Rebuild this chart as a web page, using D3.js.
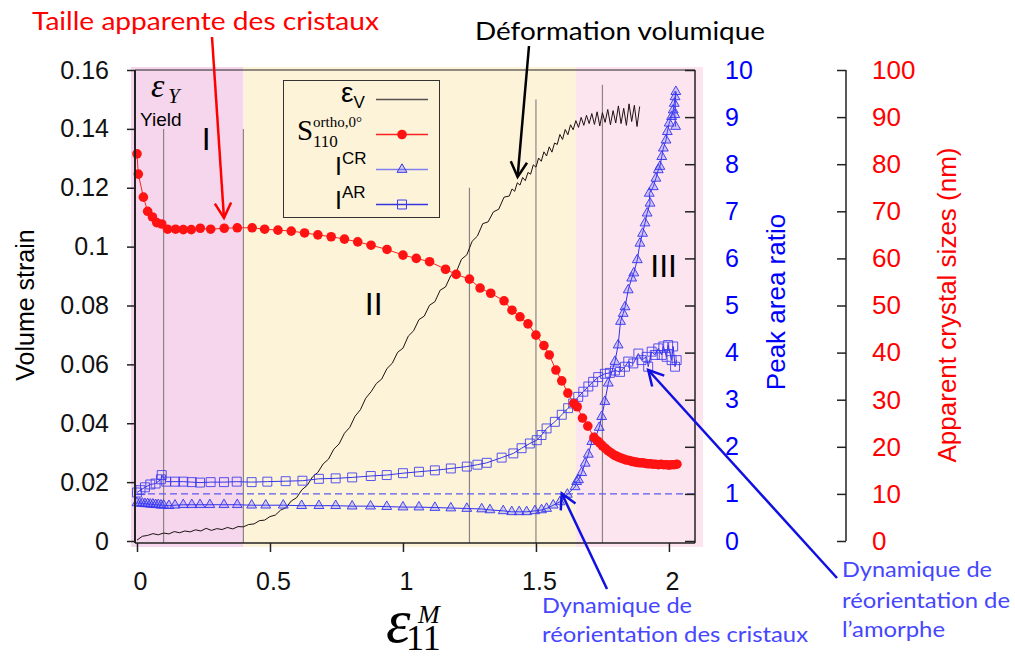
<!DOCTYPE html>
<html>
<head>
<meta charset="utf-8">
<script src="https://cdn.jsdelivr.net/npm/d3@7"></script>
<style>
  body { margin: 0; background: #fff; }
  svg { display: block; }
  text { font-family: "Liberation Sans", Arial, sans-serif; }
  .note { font-family: "Lato", "Open Sans", sans-serif; }
  .serif { font-family: "Liberation Serif", "Times New Roman", serif; }
</style>
</head>
<body>
<svg id="chart" width="1015" height="660"></svg>
<script>
// ---- ticks ----
const strainTicks = [0, 0.02, 0.04, 0.06, 0.08, 0.1, 0.12, 0.14, 0.16]
const ratioTicks = [0, 1, 2, 3, 4, 5, 6, 7, 8, 9, 10]
const sizeTicks = [0, 10, 20, 30, 40, 50, 60, 70, 80, 90, 100]
const strainXTicks = [0, 0.5, 1, 1.5, 2]

// ---- regions I / II / III (boundaries in eps11) ----
const regionEdges = [0.4, 1.65]
const regionNames = ["I", "II", "III"]
const regionLabelX = [0.26, 0.89, 1.98]
const regionLabelY = [0.1328, 0.0768, 0.0896]

// vertical reference lines: position and top (volume strain)
const refLineX = [0.1, 0.4, 1.25, 1.5, 1.75]
const refLineTop = [0.14, 0.14, 0.12, 0.15, 0.155]

// ---- volume strain (eps_V) ----
const volStrain = [
  [0.00,0.0003],[0.02,0.0016],[0.04,0.0019],[0.06,0.0025],[0.08,0.0021],[0.10,0.0027],
  [0.12,0.0024],[0.14,0.0032],[0.16,0.0028],[0.18,0.0034],[0.20,0.0031],[0.22,0.0038],
  [0.24,0.0034],[0.26,0.0043],[0.28,0.0036],[0.30,0.0042],[0.32,0.0039],[0.34,0.0046],
  [0.36,0.0041],[0.38,0.0049],[0.40,0.0048],[0.42,0.0056],[0.44,0.0058],[0.46,0.0069],
  [0.48,0.0071],[0.50,0.0083],[0.52,0.0088],[0.54,0.0105],[0.56,0.0113],[0.58,0.0136],
  [0.60,0.0147],[0.62,0.0174],[0.64,0.0189],[0.66,0.0218],[0.68,0.0233],[0.70,0.0262],
  [0.72,0.0278],[0.74,0.0312],[0.76,0.0330],[0.78,0.0366],[0.80,0.0386],[0.82,0.0424],
  [0.84,0.0446],[0.86,0.0485],[0.88,0.0507],[0.90,0.0535],[0.92,0.0550],[0.94,0.0586],
  [0.96,0.0604],[0.98,0.0641],[1.00,0.0655],[1.02,0.0696],[1.04,0.0714],[1.06,0.0752],
  [1.08,0.0764],[1.10,0.0801],[1.12,0.0813],[1.14,0.0852],[1.16,0.0863],[1.18,0.0902],
  [1.20,0.0913],[1.22,0.0957],[1.24,0.0972],[1.26,0.1018],[1.28,0.1036],[1.30,0.1078],
  [1.32,0.1084],[1.34,0.1118],[1.36,0.1127],[1.38,0.1168],[1.40,0.1172],[1.41,0.1196],
  [1.42,0.1188],[1.43,0.1217],[1.44,0.1209],[1.45,0.1235],[1.46,0.1224],[1.47,0.1252],
  [1.48,0.1246],[1.49,0.1278],[1.50,0.1270],[1.51,0.1301],[1.52,0.1290],[1.53,0.1322],
  [1.54,0.1308],[1.55,0.1339],[1.56,0.1321],[1.57,0.1352],[1.58,0.1347],[1.59,0.1381],
  [1.60,0.1364],[1.61,0.1398],[1.62,0.1380],[1.63,0.1414],[1.64,0.1397],[1.65,0.1428],
  [1.66,0.1405],[1.67,0.1439],[1.68,0.1412],[1.69,0.1446],[1.70,0.1418],[1.71,0.1452],
  [1.72,0.1415],[1.73,0.1458],[1.74,0.1410],[1.75,0.1455],[1.76,0.1422],[1.77,0.1466],
  [1.78,0.1414],[1.79,0.1462],[1.80,0.1420],[1.81,0.1478],[1.82,0.1418],[1.83,0.1470],
  [1.84,0.1412],[1.85,0.1485],[1.86,0.1425],[1.87,0.1480],[1.88,0.1408],[1.89,0.1476]
]

// ---- apparent crystal size S110 (nm) ----
const crystalSize = [
  [0,82.2],[0.005,77.9],[0.024,73.0],[0.040,70.0],[0.058,68.8],[0.074,67.6],[0.093,67.3],
  [0.115,66.2],[0.145,66.2],[0.174,66.1],[0.204,66.1],[0.238,66.4],[0.277,66.2],[0.328,66.4],
  [0.377,66.5],[0.433,66.5],[0.48,66.2],[0.53,66.0],[0.58,65.8],[0.63,65.4],[0.68,65.0],
  [0.73,64.6],[0.78,64.1],[0.83,63.5],[0.88,62.8],[0.94,61.9],[1.00,60.7],[1.05,60.0],
  [1.10,59.3],[1.16,57.7],[1.20,56.6],[1.25,55.6],[1.29,53.7],[1.33,52.6],[1.38,51.0],
  [1.41,49.0],[1.44,47.6],[1.47,46.1],[1.50,43.7],[1.53,41.5],[1.55,39.5],[1.575,36.3],
  [1.597,34.0],[1.62,31.4],[1.642,29.2],[1.655,28.5],[1.675,26.1],[1.695,24.4],[1.718,22.0],
  [1.73,21.3],[1.74,20.8],[1.75,20.2],[1.76,19.7],[1.77,19.2],[1.78,18.8],[1.79,18.4],
  [1.80,18.1],[1.81,17.8],[1.82,17.6],[1.83,17.4],[1.84,17.2],[1.85,17.1],[1.86,16.9],
  [1.87,16.8],[1.88,16.7],[1.89,16.6],[1.90,16.6],[1.91,16.5],[1.92,16.4],[1.93,16.4],
  [1.94,16.3],[1.95,16.3],[1.96,16.2],[1.97,16.3],[1.98,16.2],[1.99,16.2],[2.00,16.1],
  [2.01,16.2],[2.02,16.2],[2.03,16.3]
]

// ---- peak area ratio I_CR (triangles) ----
const ratioCR = [
  [0,0.81],[0.01,0.80],[0.02,0.80],[0.03,0.79],[0.04,0.79],[0.05,0.78],[0.06,0.78],[0.07,0.77],
  [0.08,0.77],[0.09,0.76],[0.10,0.76],[0.12,0.75],[0.143,0.76],[0.174,0.77],[0.206,0.77],
  [0.237,0.77],[0.274,0.77],[0.327,0.77],[0.377,0.77],[0.431,0.76],[0.484,0.76],[0.55,0.76],
  [0.619,0.75],[0.684,0.75],[0.747,0.75],[0.809,0.74],[0.878,0.74],[0.939,0.73],[1.0,0.72],
  [1.06,0.72],[1.12,0.71],[1.18,0.70],[1.24,0.69],[1.296,0.68],[1.327,0.66],[1.377,0.64],
  [1.409,0.62],[1.437,0.62],[1.465,0.62],[1.496,0.64],[1.521,0.66],[1.54,0.69],[1.565,0.76],
  [1.59,0.83],[1.618,0.99],[1.647,1.15],[1.653,1.26],[1.66,1.30],[1.672,1.45],[1.685,1.65],
  [1.697,1.84],[1.710,2.11],[1.722,2.18],[1.738,2.41],[1.747,2.64],[1.759,2.96],[1.772,3.35],
  [1.797,3.81],[1.809,4.16],[1.818,4.66],[1.828,4.83],[1.835,4.97],[1.847,5.33],[1.860,5.58],
  [1.868,5.69],[1.881,5.97],[1.891,6.32],[1.901,6.53],[1.910,6.75],[1.918,6.96],[1.929,7.17],
  [1.926,7.38],[1.941,7.52],[1.951,7.70],[1.960,7.88],[1.966,7.95],[1.973,8.16],[1.979,8.34],
  [1.989,8.51],[1.994,8.69],[2.001,8.87],[2.010,9.01],[2.016,9.15],[2.020,9.29],[2.023,9.43],
  [2.026,9.54],[2.022,9.05],[2.025,8.80]
]

// ---- peak area ratio I_AR (squares) ----
const ratioAR = [
  [0,1.03],[0.013,1.08],[0.03,1.14],[0.05,1.20],[0.07,1.22],[0.09,1.31],[0.093,1.40],[0.11,1.26],
  [0.143,1.26],[0.174,1.26],[0.206,1.25],[0.237,1.24],[0.277,1.25],[0.327,1.25],[0.375,1.26],
  [0.431,1.25],[0.49,1.26],[0.559,1.27],[0.622,1.28],[0.684,1.32],[0.747,1.33],[0.809,1.35],
  [0.879,1.38],[0.939,1.40],[1.0,1.44],[1.06,1.47],[1.12,1.50],[1.18,1.54],[1.24,1.58],
  [1.28,1.62],[1.315,1.66],[1.371,1.77],[1.415,1.86],[1.446,1.97],[1.477,2.07],[1.503,2.14],
  [1.521,2.25],[1.540,2.39],[1.571,2.53],[1.597,2.68],[1.621,2.82],[1.640,2.92],[1.659,3.06],
  [1.678,3.17],[1.697,3.28],[1.715,3.38],[1.734,3.48],[1.759,3.55],[1.778,3.57],[1.797,3.62],
  [1.816,3.59],[1.835,3.70],[1.847,3.81],[1.866,3.77],[1.885,3.98],[1.897,3.84],[1.916,3.91],
  [1.922,3.70],[1.935,4.02],[1.947,3.95],[1.960,4.09],[1.973,3.95],[1.979,4.13],[1.991,3.91],
  [1.997,4.16],[2.010,3.84],[2.016,4.13],[2.023,3.70],[2.029,3.84]
]

const ratioRef = 1   // dashed reference level

const svg = d3.select("#chart")

const x = d3.scaleLinear().domain([-0.0075, 2.098]).range([135, 695]),
      yStrain = d3.scaleLinear().domain([0, 0.16]).range([541, 70]),
      yRatio = d3.scaleLinear().domain([0, 10]).range([541, 70]),
      ySize = d3.scaleLinear().domain([0, 100]).range([541, 70])

// background regions
const bounds = [x.domain()[0], ...regionEdges, x.domain()[1]]
const regionFill = ["#f6d6ec", "#fdf3d9", "#fde5ef"]
svg.append("g").selectAll("rect")
   .data(regionFill)
   .join("rect")
   .attr("x", (d, i) => x(bounds[i]) - (i === 0 ? 4 : 0))
   .attr("width", (d, i) => x(bounds[i + 1]) - x(bounds[i]) + (i === 0 ? 4 : 0) + (i === 2 ? 8 : 0))
   .attr("y", 67)
   .attr("height", 480)
   .attr("fill", d => d)

// vertical gray lines
svg.append("g").selectAll("line")
   .data(refLineX)
   .join("line")
   .attr("x1", d => x(d)).attr("x2", d => x(d))
   .attr("y1", (d, i) => yStrain(refLineTop[i]))
   .attr("y2", 543)
   .attr("stroke", "#8c8484")
   .attr("stroke-width", 1.2)

// dashed level
svg.append("line")
   .attr("x1", x(0)).attr("x2", 695)
   .attr("y1", yRatio(ratioRef)).attr("y2", yRatio(ratioRef))
   .attr("stroke", "#5a5af0")
   .attr("stroke-width", 1.3)
   .attr("stroke-dasharray", "7,4")

// region labels
svg.append("g").selectAll("text")
   .data(regionNames)
   .join("text")
   .attr("x", (d, i) => x(regionLabelX[i]))
   .attr("y", (d, i) => yStrain(regionLabelY[i]))
   .attr("text-anchor", "middle")
   .attr("font-size", 32)
   .text(d => d)

// ---- series ----
// volume strain
svg.append("path")
   .datum(volStrain)
   .attr("d", d3.line().x(d => x(d[0])).y(d => yStrain(d[1])))
   .attr("fill", "none")
   .attr("stroke", "#1c1212")
   .attr("stroke-width", 1)

// I_AR squares
svg.append("path")
   .datum(ratioAR)
   .attr("d", d3.line().x(d => x(d[0])).y(d => yRatio(d[1])))
   .attr("fill", "none")
   .attr("stroke", "#3535e8")
   .attr("stroke-width", 1)
svg.append("g").selectAll("path")
   .data(ratioAR)
   .join("path")
   .attr("transform", d => `translate(${x(d[0])},${yRatio(d[1])})`)
   .attr("d", d3.symbol(d3.symbolSquare, 80))
   .attr("fill", "none")
   .attr("stroke", "#3a3aee")
   .attr("stroke-opacity", 0.85)

// I_CR triangles
svg.append("path")
   .datum(ratioCR)
   .attr("d", d3.line().x(d => x(d[0])).y(d => yRatio(d[1])))
   .attr("fill", "none")
   .attr("stroke", "#3030ee")
   .attr("stroke-width", 1)
svg.append("g").selectAll("path")
   .data(ratioCR)
   .join("path")
   .attr("transform", d => `translate(${x(d[0])},${yRatio(d[1])})`)
   .attr("d", d3.symbol(d3.symbolTriangle, 42))
   .attr("fill", "rgba(90,90,255,0.25)")
   .attr("stroke", "#3434ee")
   .attr("stroke-opacity", 0.9)

// crystal size red
svg.append("path")
   .datum(crystalSize)
   .attr("d", d3.line().x(d => x(d[0])).y(d => ySize(d[1])))
   .attr("fill", "none")
   .attr("stroke", "#ff2020")
   .attr("stroke-width", 1)
svg.append("g").selectAll("circle")
   .data(crystalSize)
   .join("circle")
   .attr("cx", d => x(d[0]))
   .attr("cy", d => ySize(d[1]))
   .attr("r", 4.8)
   .attr("fill", "#ff1212")

// ---- frame & axes ----
const frame = svg.append("g").attr("stroke", "#222").attr("stroke-width", 1.5)
frame.append("line").attr("x1", 135).attr("x2", 695).attr("y1", 70).attr("y2", 70).attr("stroke-width", 1)
frame.append("line").attr("x1", 695).attr("x2", 695).attr("y1", 70).attr("y2", 543)

const leftAxis = svg.append("g")
   .attr("transform", "translate(135,0)")
   .call(d3.axisLeft(yStrain).tickValues(strainTicks).tickSize(8).tickPadding(18)
           .tickFormat(d => d === 0 ? "0" : String(d)))
leftAxis.select(".domain").attr("d", "M0,70V543").attr("stroke", "#222").attr("stroke-width", 2)

const bottomAxis = svg.append("g")
   .attr("transform", "translate(0,543)")
   .call(d3.axisBottom(x).tickValues(strainXTicks).tickSize(9).tickPadding(20)
           .tickFormat(d => String(d)))
bottomAxis.select(".domain").attr("d", "M135,0H695").attr("stroke", "#222").attr("stroke-width", 1.5)
bottomAxis.selectAll(".tick text").attr("dx", 3)

const ratioAxis = svg.append("g")
   .attr("transform", "translate(695,0)")
   .call(d3.axisRight(yRatio).tickValues(ratioTicks).tickSizeInner(-10).tickSizeOuter(0).tickPadding(30))
ratioAxis.select(".domain").remove()
ratioAxis.selectAll(".tick text").attr("fill", "#0000ff").attr("font-size", 25)

const sizeAxis = svg.append("g")
   .attr("transform", "translate(846,0)")
   .call(d3.axisRight(ySize).tickValues(sizeTicks).tickSizeInner(-9).tickSizeOuter(0).tickPadding(26))
sizeAxis.select(".domain").attr("d", "M0,70V541").attr("stroke", "#222").attr("stroke-width", 1.5)
sizeAxis.selectAll(".tick text").attr("fill", "#ff0000").attr("font-size", 26)

svg.selectAll(".tick line").attr("stroke", "#222").attr("stroke-width", 1.5)
leftAxis.selectAll(".tick text").attr("font-size", 25).attr("fill", "#111")
bottomAxis.selectAll(".tick text").attr("font-size", 25).attr("fill", "#111")
svg.selectAll(".tick text").attr("font-family", "Liberation Sans, Arial, sans-serif")

// axis titles
svg.append("text")
   .attr("transform", "translate(34,305) rotate(-90)")
   .attr("text-anchor", "middle").attr("font-size", 25)
   .text("Volume strain")
svg.append("text")
   .attr("transform", "translate(785,302) rotate(-90)")
   .attr("text-anchor", "middle").attr("font-size", 26).attr("fill", "#0000ff")
   .text("Peak area ratio")
svg.append("text")
   .attr("transform", "translate(956,305) rotate(-90)")
   .attr("text-anchor", "middle").attr("font-size", 26).attr("fill", "#ff0000")
   .text("Apparent crystal sizes (nm)")

const xLab = svg.append("g")
xLab.append("text").attr("class", "serif").attr("x", 386).attr("y", 642)
    .attr("font-size", 62).attr("font-style", "italic").text("ε")
xLab.append("text").attr("class", "serif").attr("x", 406).attr("y", 650)
    .attr("font-size", 36).text("11")
xLab.append("text").attr("class", "serif").attr("x", 418).attr("y", 623)
    .attr("font-size", 26).attr("font-style", "italic").text("M")

// eps_Y / Yield
svg.append("text").attr("class", "serif").attr("x", 151).attr("y", 97)
   .attr("font-size", 34).attr("font-style", "italic").text("ε")
svg.append("text").attr("class", "serif").attr("x", 168).attr("y", 103)
   .attr("font-size", 21).attr("font-style", "italic").text("Y")
svg.append("text").attr("x", 140).attr("y", 126).attr("font-size", 19).text("Yield")

// ---- legend ----
const legend = svg.append("g")
legend.append("rect")
   .attr("x", 283.5).attr("y", 80.5).attr("width", 156).attr("height", 137)
   .attr("fill", "#fdf3d9").attr("stroke", "#333").attr("stroke-width", 1)
const legendY = [99.5, 134.5, 169.5, 204.5]
const legendColor = ["#555050", "#ff2020", "#8080ee", "#3535e0"]
legend.selectAll("line.key")
   .data(legendY)
   .join("line")
   .attr("class", "key")
   .attr("x1", 376).attr("x2", 428)
   .attr("y1", d => d).attr("y2", d => d)
   .attr("stroke", (d, i) => legendColor[i])
   .attr("stroke-width", 1.3)
legend.append("circle").attr("cx", 402).attr("cy", legendY[1]).attr("r", 4.8).attr("fill", "#ff1212")
legend.append("path").attr("transform", `translate(402,${legendY[2]})`)
   .attr("d", d3.symbol(d3.symbolTriangle, 42)).attr("fill", "rgba(90,90,255,0.25)").attr("stroke", "#3434ee")
legend.append("path").attr("transform", `translate(402,${legendY[3]})`)
   .attr("d", d3.symbol(d3.symbolSquare, 80)).attr("fill", "none").attr("stroke", "#3a3aee")

const t1 = legend.append("text").attr("x", 341).attr("y", 102)
t1.append("tspan").attr("font-size", 28).text("ε")
t1.append("tspan").attr("font-size", 17).attr("dy", 6).text("V")

legend.append("text").attr("class", "serif").attr("x", 297).attr("y", 140)
   .attr("font-size", 29).text("S")
legend.append("text").attr("class", "serif").attr("x", 313).attr("y", 127)
   .attr("font-size", 15).text("ortho,0°")
legend.append("text").attr("class", "serif").attr("x", 313).attr("y", 147)
   .attr("font-size", 17).text("110")

const t3 = legend.append("text").attr("x", 335).attr("y", 175)
t3.append("tspan").attr("font-size", 25).text("I")
t3.append("tspan").attr("font-size", 17).attr("dy", -11).text("CR")
const t4 = legend.append("text").attr("x", 335).attr("y", 209)
t4.append("tspan").attr("font-size", 25).text("I")
t4.append("tspan").attr("font-size", 17).attr("dy", -11).text("AR")

// ---- annotations ----
function arrow(x1, y1, x2, y2, color, w) {
  const g = svg.append("g").attr("stroke", color).attr("stroke-width", w).attr("fill", "none")
  g.append("line").attr("x1", x1).attr("y1", y1).attr("x2", x2).attr("y2", y2)
  const a = Math.atan2(y2 - y1, x2 - x1), L = 17, s = 0.5
  const p = [a + Math.PI - s, a + Math.PI + s].map(b => [x2 + L * Math.cos(b), y2 + L * Math.sin(b)])
  g.append("path").attr("d", `M${p[0]}L${x2},${y2}L${p[1]}`)
}

svg.append("text").attr("class", "note").attr("x", 32).attr("y", 30)
   .attr("font-size", 25).attr("fill", "#ff0000")
   .attr("textLength", 347).attr("lengthAdjust", "spacingAndGlyphs")
   .text("Taille apparente des cristaux")
arrow(212, 37, x(0.327), ySize(68.6), "#ff0000", 2.5)

svg.append("text").attr("class", "note").attr("x", 475).attr("y", 40)
   .attr("font-size", 25).attr("fill", "#000")
   .attr("textLength", 290).attr("lengthAdjust", "spacingAndGlyphs")
   .text("Déformation volumique")
arrow(529, 46, x(1.431), yStrain(0.1237), "#000", 2.5)

const blueNote = "#4646ff"
const n1 = svg.append("text").attr("class", "note").attr("font-size", 21).attr("fill", blueNote)
n1.append("tspan").attr("x", 542).attr("y", 613).attr("textLength", 150).attr("lengthAdjust", "spacingAndGlyphs").text("Dynamique de")
n1.append("tspan").attr("x", 542).attr("y", 642).attr("textLength", 266).attr("lengthAdjust", "spacingAndGlyphs").text("réorientation des cristaux")
arrow(607, 589, x(1.597), yRatio(1.01), "#1010e0", 2.5)

const n2 = svg.append("text").attr("class", "note").attr("font-size", 21).attr("fill", blueNote)
n2.append("tspan").attr("x", 842).attr("y", 577).attr("textLength", 150).attr("lengthAdjust", "spacingAndGlyphs").text("Dynamique de")
n2.append("tspan").attr("x", 842).attr("y", 608).attr("textLength", 168).attr("lengthAdjust", "spacingAndGlyphs").text("réorientation de")
n2.append("tspan").attr("x", 842).attr("y", 637).attr("textLength", 103).attr("lengthAdjust", "spacingAndGlyphs").text("l’amorphe")
arrow(837, 578, x(1.922), yRatio(3.63), "#1010e0", 2.5)
</script>
</body>
</html>
